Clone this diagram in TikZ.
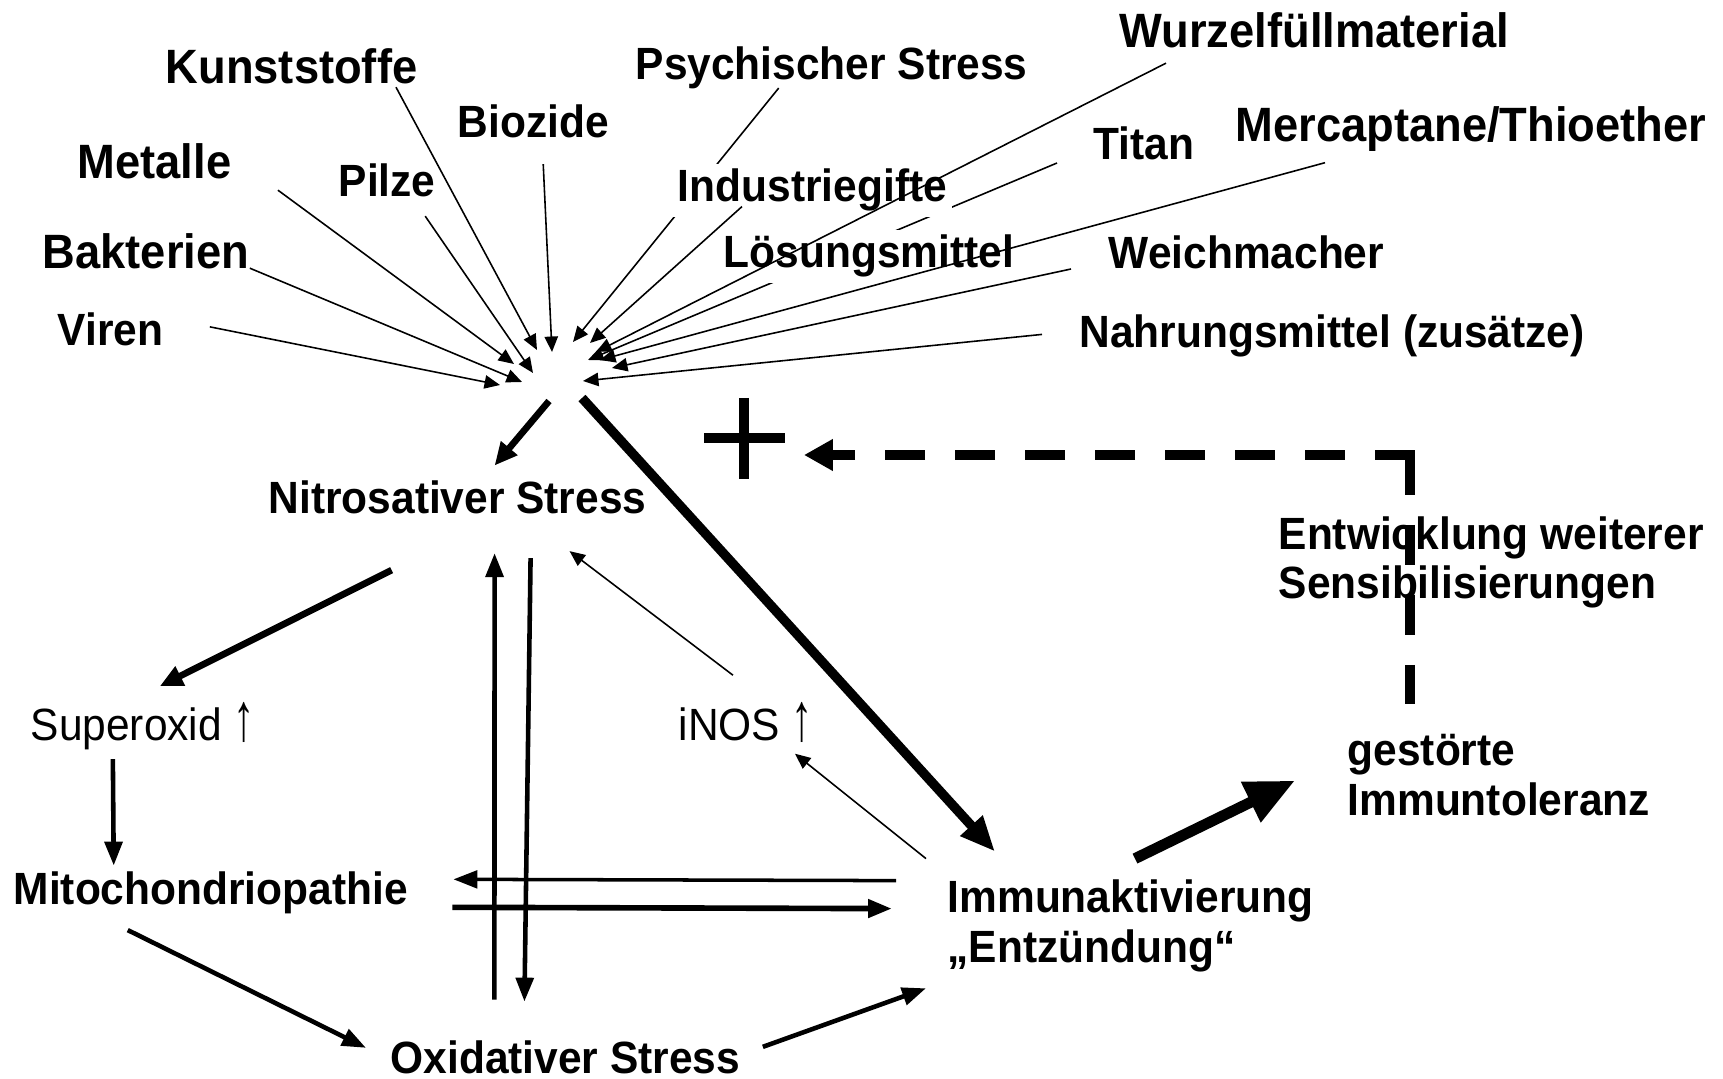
\documentclass[tikz,border=0pt]{standalone}
\usepackage{fontspec}
\usepackage{graphicx}
\setmainfont{Liberation Sans}[FakeStretch=0.94]
\usetikzlibrary{arrows.meta}
\newcommand{\hoch}{\scalebox{1}[1.5]{↑}}

\begin{document}
\begin{tikzpicture}[x=0.01cm, y=-0.01cm,
    lbl/.style={font=\fontsize{12.85}{14.2}\selectfont\bfseries, anchor=base west, inner sep=0pt, align=left},
    lblbig/.style={lbl, font=\fontsize{13.7}{15}\selectfont\bfseries},
    lblr/.style={font=\fontsize{12.85}{14.2}\selectfont, anchor=base west, inner sep=0pt},
    cover/.style={lbl, fill=white, inner sep=1.5pt},
    src/.style={line width=0.45pt, -{Triangle[length=4.4pt, width=3.8pt]}},
    fine/.style={line width=0.45pt, -{Triangle[length=4.4pt, width=3.8pt]}},
    mid/.style={line width=1.3pt, -{Triangle[length=6.8pt, width=5pt]}},
    strong/.style={line width=1.9pt, -{Triangle[length=6.5pt, width=5.8pt]}},
    heavy/.style={line width=2.7pt, -{Triangle[length=10pt, width=8pt]}},
    fat/.style={line width=3.1pt, -{Triangle[length=14pt, width=12pt]}},
    dashline/.style={line width=2.8pt, dash pattern=on 11.4pt off 8.5pt}]
  \useasboundingbox (0,0) rectangle (1723,1079);

  % Belastungen
  \node[lblbig] (kunst)   at (165,84)   {Kunststoffe};
  \node[lbl]    (psych)   at (635,80)   {Psychischer Stress};
  \node[lblbig] (wurzel)  at (1119,48)  {Wurzelfüllmaterial};
  \node[lbl]    (biozide) at (457,138)  {Biozide};
  \node[lblbig] (metalle) at (77,179)   {Metalle};
  \node[lbl]    (pilze)   at (338,197)  {Pilze};
  \node[lbl]    (titan)   at (1093,160) {Titan};
  \node[lblbig] (merc)    at (1235,142) {Mercaptane/Thioether};
  \node[lblbig] (bakt)    at (42,269)   {Bakterien};
  \node[lbl]    (weich)   at (1108,269) {Weichmacher};
  \node[lbl]    (viren)   at (57,346)   {Viren};
  \node[lbl]    (nahr)    at (1079,348) {Nahrungsmittel (zusätze)};

  \coordinate (focus) at (550,370);

  % laufen hinter den Texten durch
  \draw[src] ([shift={(-53,-2)}]psych.south) -- ([shift={(23,-28)}]focus);
  \draw[src] ([shift={(-36,3)}]titan.base west) -- ([shift={(38,-10)}]focus);
  \node[cover] (indus) at (672,202) {Industriegifte};
  \node[cover] (loes)  at (718,268) {Lösungsmittel};

  \draw[src] ([shift={(46,-3)}]viren.east) -- ([shift={(-50,15)}]focus);
  \draw[src] ([shift={(0,-2)}]bakt.south east) -- ([shift={(-28,12)}]focus);
  \draw[src] ([shift={(46,10)}]metalle.south east) -- ([shift={(-36,-6)}]focus);
  \draw[src] ([shift={(-11,18)}]pilze.south east) -- ([shift={(-17,3)}]focus);
  \draw[src] ([shift={(-22,2)}]kunst.south east) -- ([shift={(-13,-20)}]focus);
  \draw[src] ([shift={(10,25)}]biozide.south) -- ([shift={(2,-18)}]focus);
  \draw[src] ([shift={(70,-11)}]indus.south west) -- ([shift={(40,-27)}]focus);
  \draw[src] ([shift={(47,14)}]wurzel.south west) -- ([shift={(46,-18)}]focus);
  \draw[src] ([shift={(90,10)}]merc.south west) -- ([shift={(50,-10)}]focus);
  \draw[src] ([shift={(-37,0)}]weich.base west) -- ([shift={(62,-2)}]focus);
  \draw[src] ([shift={(-37,-2)}]nahr.west) -- ([shift={(33,11)}]focus);

  % Kreislauf
  \node[lbl]  (nitro)   at (268,514)  {Nitrosativer Stress};
  \node[lblr] (superox) at (30,741)   {Superoxid \hoch};
  \node[lblr] (inos)    at (678,741)  {iNOS \hoch};
  \node[lbl]  (mito)    at (13,904)   {Mitochondriopathie};
  \node[lbl]  (immun)   at (947,962)  {Immunaktivierung\\„Entzündung“};
  \node[lbl]  (oxid)    at (390,1073) {Oxidativer Stress};
  \node[lbl]  (gest)    at (1347,815) {gestörte\\Immuntoleranz};
  \node[lbl]  (entw)    at (1278,599) {Entwicklung weiterer\\Sensibilisierungen};

  \draw[strong] ([shift={(-1,31)}]focus) -- ([shift={(37,-15)}]nitro.north);
  \draw[heavy] ([shift={(32,28)}]focus) -- ([shift={(48,-27)}]immun.north west);

  \draw[strong] ([shift={(-66,55)}]nitro.south) -- ([shift={(17,-16)}]superox.north);
  \draw[mid] ([shift={(-30,8)}]superox.south) -- ([shift={(-97,-5)}]mito.north);
  \draw[mid] ([shift={(-83,16)}]mito.south) -- ([shift={(-24,-9)}]oxid.west);
  \draw[mid] ([shift={(22,-10)}]oxid.east) -- ([shift={(-21,16)}]immun.south west);
  \draw[mid] ([shift={(-71,-40)}]oxid.north) -- ([shift={(37,38)}]nitro.south);
  \draw[mid] ([shift={(73,43)}]nitro.south) -- ([shift={(-41,-38)}]oxid.north);
  \draw[mid, line width=1pt] ([shift={(-51,2)}]immun.north west) -- ([shift={(45,-13)}]mito.east);
  \draw[mid, line width=1.6pt] ([shift={(44,15)}]mito.east) -- ([shift={(-55,30)}]immun.north west);
  \draw[fine] ([shift={(-21,-20)}]immun.north west) -- ([shift={(49,10)}]inos.south);
  \draw[fine] ([shift={(-13,-27)}]inos.north) -- ([shift={(112,36)}]nitro.south);
  \draw[fat] ([shift={(188,-20)}]immun.north west) -- ([shift={(-52,6)}]gest.west);

  % Rueckkopplung
  \coordinate (plus) at (744,438);
  \draw[line width=2.7pt] (plus) ++(-40,0) -- ++(81,0) (plus) ++(0,-40) -- ++(0,81);
  \coordinate (knick) at (1410,455);
  \coordinate (dbot) at ([shift={(63,-29)}]gest.north west);
  \draw[dashline] (knick) -- (knick |- dbot);
  \draw[dashline, -{Triangle[length=8.2pt, width=8.5pt]}] ([xshift=1.4pt]knick) -- ([shift={(60,17)}]plus);
\end{tikzpicture}
\end{document}
